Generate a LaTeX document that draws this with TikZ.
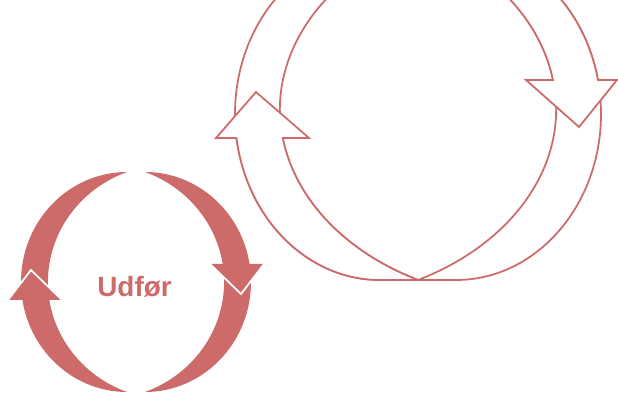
\documentclass[tikz,border=0pt]{standalone}
\usepackage{fontspec}
\setsansfont{Liberation Sans}
\usepackage{tikz}
\usetikzlibrary{positioning}
\definecolor{cRose}{HTML}{CD6B6B}

\begin{document}
\begin{tikzpicture}[x=0.03cm,y=0.03cm,
  ol/.style={draw=cRose,fill=white,line width=1.5pt},
  fl/.style={fill=cRose},
  wl/.style={draw=white,line width=1.5pt},
  lbl/.style={text=cRose,font=\sffamily\bfseries\fontsize{23.8}{28}\selectfont,inner sep=0pt}]
\useasboundingbox (0,0) rectangle (618,394);
\clip (0,0) rectangle (618,394);
\begin{scope}
\filldraw[ol] (418,114) -- (380,114) arc[start angle=270,end angle=90,x radius=145,y radius=166]
  -- (418,455) arc[start angle=116.8,end angle=243.2,x radius=251.5,y radius=191] -- cycle;
\filldraw[ol] (418,114) -- (380,114) arc[start angle=270,end angle=188.31,x radius=145,y radius=166]
  -- (216,256) -- (256,302) -- (309,256) -- (282.8,256)
  arc[start angle=188.58,end angle=243.2,x radius=251.5,y radius=191] -- cycle;
\end{scope}
\begin{scope}[shift={(836,0)},xscale=-1]
\filldraw[ol] (418,114) -- (380,114) arc[start angle=270,end angle=90,x radius=145,y radius=166]
  -- (418,455) arc[start angle=116.8,end angle=243.2,x radius=251.5,y radius=191] -- cycle;
\filldraw[ol] (418,455) -- (380,446) arc[start angle=90,end angle=168.18,x radius=145,y radius=166]
  -- (219,314) -- (257,267) -- (310,314) -- (283,314)
  arc[start angle=171.11,end angle=116.8,x radius=251.5,y radius=191] -- cycle;
\end{scope}
\foreach \rot in {0,180} {
\begin{scope}[rotate around={\rot:(136,112)}]
\fill[fl] (127,222) arc[start angle=90,end angle=270,x radius=106,y radius=110]
  arc[start angle=249.4,end angle=110.6,x radius=122,y radius=117.5] -- cycle;
\fill[fl] (8,94) -- (31,124) -- (62,94) -- cycle;
\draw[wl] (8,94) -- (31,124) -- (62,94);
\end{scope}
}
\node[lbl,anchor=base] (udfor) at (134.5,97.3) {Udfør};
\end{tikzpicture}
\end{document}
